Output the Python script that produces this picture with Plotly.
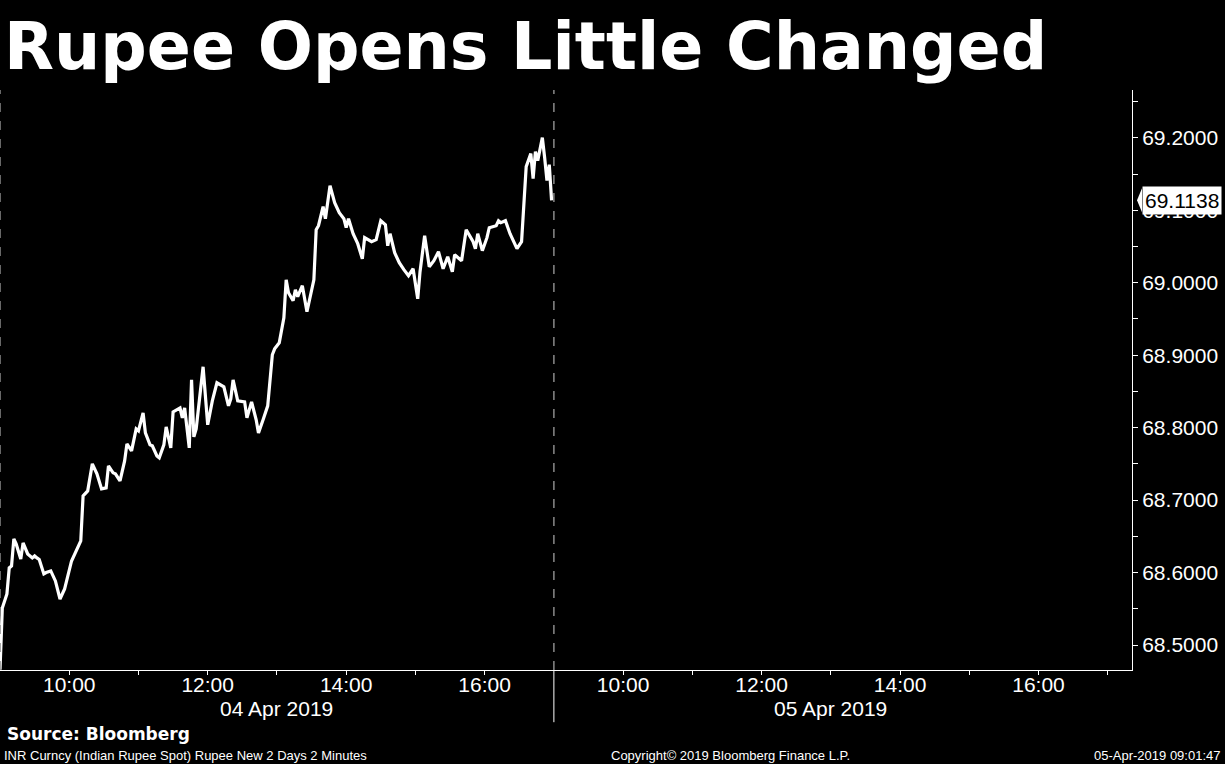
import pandas as pd
import plotly.graph_objects as go

# INR spot, 04 Apr 2019, minutes after 09:00 and price
minutes = [0, 2, 6, 8, 10, 12, 14, 18, 20, 24, 28, 30, 32, 34, 38, 40, 44, 48, 52, 56,
           62, 70, 72, 76, 80, 84, 88, 92, 94, 98, 100, 104, 108, 110, 114, 118, 120, 124, 126, 130,
           132, 136, 138, 142, 144, 148, 150, 156, 158, 160, 164, 166, 168, 170, 176, 180, 184, 188, 194, 198,
           200, 202, 206, 212, 214, 218, 222, 224, 228, 232, 236, 238, 242, 246, 248, 250, 254, 256, 258, 262,
           266, 270, 272, 274, 276, 280, 282, 286, 290, 294, 298, 300, 302, 306, 310, 314, 316, 322, 326, 330,
           334, 336, 338, 342, 346, 350, 354, 358, 362, 364, 368, 372, 376, 380, 384, 388, 392, 394, 400, 404,
           410, 412, 414, 418, 422, 424, 430, 432, 434, 438, 442, 448, 452, 456, 460, 462, 464, 466, 470, 472,
           474, 476, 478]
prices = [68.466, 68.5511, 68.5704, 68.6064, 68.6091, 68.6464, 68.6395, 68.6188, 68.6409, 68.6257,
          68.6202, 68.6229, 68.6202, 68.6180, 68.5981, 68.6000, 68.6022, 68.5884, 68.5635, 68.5773,
          68.6160, 68.6436, 68.7058, 68.7127, 68.7500, 68.7362, 68.7155, 68.7169, 68.7472, 68.7376,
          68.7362, 68.7265, 68.7541, 68.7776, 68.7680, 68.7983, 68.7956, 68.8204, 68.7928, 68.7762,
          68.7749, 68.7610, 68.7583, 68.7762, 68.8011, 68.7721, 68.8218, 68.8273, 68.8135, 68.8273,
          68.7721, 68.8660, 68.7873, 68.7983, 68.8840, 68.8039, 68.8370, 68.8619, 68.8564, 68.8301,
          68.8398, 68.8660, 68.8370, 68.8356, 68.8135, 68.8356, 68.8108, 68.7928, 68.8108, 68.8301,
          68.9006, 68.9088, 68.9171, 68.9517, 69.0041, 68.9862, 68.9751, 68.9903, 68.9807, 68.9959,
          68.9599, 68.9903, 69.0041, 69.0732, 69.0787, 69.1050, 69.0884, 69.1340, 69.1105, 69.0967,
          69.0884, 69.0760, 69.0884, 69.0677, 69.0539, 69.0331, 69.0622, 69.0566, 69.0594, 69.0856,
          69.0801, 69.0511, 69.0677, 69.0414, 69.0276, 69.0180, 69.0097, 69.0193, 68.9779, 69.0152,
          69.0649, 69.0221, 69.0304, 69.0428, 69.0193, 69.0359, 69.0152, 69.0387, 69.0304, 69.0732,
          69.0566, 69.0470, 69.0677, 69.0442, 69.0622, 69.0760, 69.0787, 69.0856, 69.0829, 69.0856,
          69.0677, 69.0470, 69.0566, 69.1602, 69.1782, 69.1436, 69.1809, 69.1685, 69.2003, 69.1727,
          69.1409, 69.1630, 69.1138]

last_price = 69.1138
tick_times = ["2019-04-04 10:00", "2019-04-04 11:00", "2019-04-04 12:00", "2019-04-04 13:00",
              "2019-04-04 14:00", "2019-04-04 15:00", "2019-04-04 16:00",
              "2019-04-05 10:00", "2019-04-05 11:00", "2019-04-05 12:00", "2019-04-05 13:00",
              "2019-04-05 14:00", "2019-04-05 15:00", "2019-04-05 16:00", "2019-04-06 09:00"]
tick_text = ["10:00", "", "12:00", "", "14:00", "", "16:00",
             "10:00", "", "12:00", "", "14:00", "", "16:00", ""]
day_labels = ["04 Apr 2019", "05 Apr 2019"]
day_centers = ["2019-04-04 13:00", "2019-04-05 13:00"]

times = pd.Timestamp("2019-04-04 09:00") + pd.to_timedelta(minutes, unit="min")

tick_font = "Liberation Sans, Arial, sans-serif"

fig = go.Figure()
fig.add_trace(go.Scatter(
    x=times,
    y=prices,
    mode="lines",
    line=dict(color="white", width=3.2),
    hoverinfo="skip",
))

fig.update_layout(
    width=1225,
    height=764,
    paper_bgcolor="black",
    plot_bgcolor="black",
    showlegend=False,
    margin=dict(l=0, r=93, t=90, b=94),
    title=dict(
        text="<b>Rupee Opens Little Changed</b>",
        x=4 / 1225, xanchor="left",
        y=1 - 46 / 764, yanchor="middle",
        font=dict(family="DejaVu Sans", size=65, color="white"),
    ),
    xaxis=dict(
        range=["2019-04-04 09:00", "2019-04-06 09:21"],
        rangebreaks=[dict(bounds=[17, 9], pattern="hour")],
        tickmode="array",
        tickvals=tick_times,
        ticktext=tick_text,
        ticks="outside",
        ticklen=4,
        tickcolor="white",
        ticklabelstandoff=-8,
        showline=True,
        linecolor="white",
        linewidth=1,
        showgrid=False,
        zeroline=False,
        tickfont=dict(family=tick_font, size=21, color="white"),
    ),
    yaxis=dict(
        side="right",
        range=[68.4655, 69.266],
        tick0=68.5,
        dtick=0.1,
        tickformat=".4f",
        ticks="outside",
        ticklen=5,
        tickcolor="white",
        minor=dict(dtick=0.05, ticks="outside", ticklen=5, tickcolor="white"),
        showline=True,
        linecolor="white",
        linewidth=1,
        showgrid=False,
        zeroline=False,
        tickfont=dict(family=tick_font, size=21, color="white"),
    ),
)

# dashed session boundaries
for xv in ["2019-04-04 09:00", "2019-04-05 09:00"]:
    fig.add_shape(type="line", xref="x", yref="paper", x0=xv, x1=xv, y0=0, y1=1,
                  line=dict(color="#8a8a8a", width=1.5, dash="dash"))
fig.add_shape(type="line", xref="x", yref="paper", x0="2019-04-05 09:00", x1="2019-04-05 09:00",
              y0=0, y1=-0.09, line=dict(color="white", width=1))

for label, xc in zip(day_labels, day_centers):
    fig.add_annotation(x=xc, xref="x", y=-0.067, yref="paper", text=label, showarrow=False,
                       yanchor="middle", font=dict(family=tick_font, size=21, color="white"))

# last price tag
fig.add_shape(type="path", xref="paper", yref="y", xsizemode="pixel", ysizemode="pixel",
              xanchor=1, yanchor=last_price,
              path="M 5 0 L 10 -12 L 10 12 Z", fillcolor="white", line=dict(width=0))
fig.add_annotation(x=1, xref="paper", y=last_price, yref="y", xshift=10, xanchor="left",
                   yanchor="middle", text=f"{last_price:.4f}", showarrow=False,
                   bgcolor="white", borderpad=2,
                   font=dict(family=tick_font, size=21, color="black"))

fig.add_annotation(x=5 / 1132, xref="paper", y=-0.11, yref="paper", xanchor="left", yanchor="middle",
                   text="<b>Source: Bloomberg</b>", showarrow=False,
                   font=dict(family="DejaVu Sans", size=17, color="white"))
fig.add_annotation(x=2 / 1132, xref="paper", y=-0.1466, yref="paper", xanchor="left", yanchor="middle",
                   text="INR Curncy (Indian Rupee Spot) Rupee New 2 Days 2 Minutes", showarrow=False,
                   font=dict(family=tick_font, size=13, color="white"))
fig.add_annotation(x=730 / 1132, xref="paper", y=-0.1466, yref="paper", xanchor="center", yanchor="middle",
                   text="Copyright© 2019 Bloomberg Finance L.P.", showarrow=False,
                   font=dict(family=tick_font, size=13, color="white"))
fig.add_annotation(x=1222 / 1132, xref="paper", y=-0.1466, yref="paper", xanchor="right", yanchor="middle",
                   text="05-Apr-2019 09:01:47", showarrow=False,
                   font=dict(family=tick_font, size=13, color="white"))

# drop the browser's default page margin so the figure fills the window
fig.write_html("out.html", config={"displayModeBar": False},
               post_script="document.body.style.margin='0';")
